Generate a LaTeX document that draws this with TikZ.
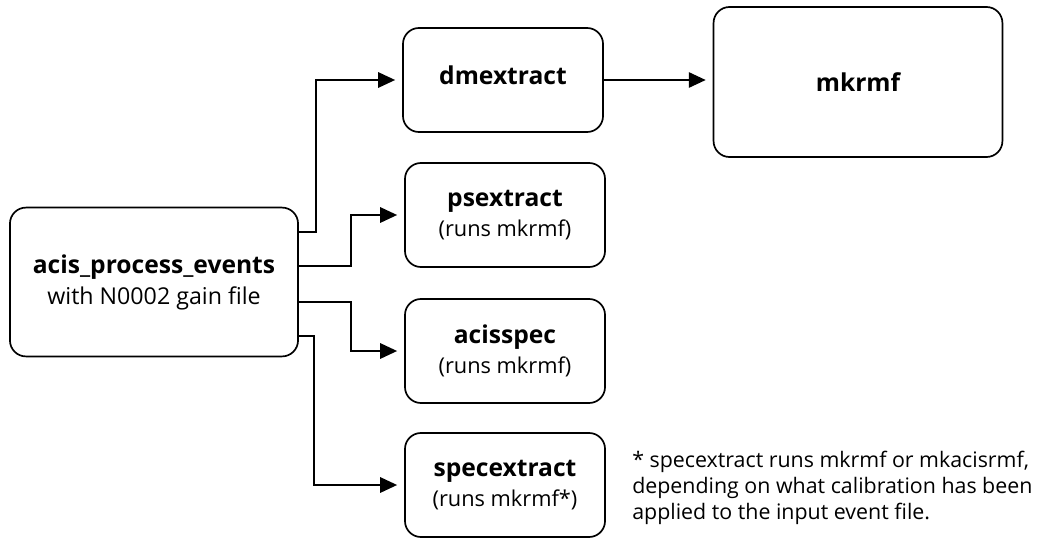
\documentclass[tikz,border=0pt]{standalone}
\usepackage{fontspec}
\setmainfont{Open Sans}
\usetikzlibrary{arrows.meta}

\newcommand{\boxname}[1]{{\fontsize{17.5}{21}\selectfont\bfseries #1}}
\newcommand{\boxnote}[1]{{\fontsize{15.5}{21}\selectfont #1}}

\begin{document}
\begin{tikzpicture}[x=0.025cm,y=-0.025cm,
    box/.style={draw, line width=1.2pt, rounded corners=0.4cm, align=center,
        minimum width=5cm, minimum height=2.6cm, font=\fontsize{15.5}{21}\selectfont},
    arr/.style={-{Triangle[length=12pt,width=11pt]}, line width=1pt, shorten >=5pt}]

    \useasboundingbox (0,0) rectangle (1054,539);

    % Boxes
    \node[box, minimum width=7.2cm, minimum height=3.72cm] (main) at (154,282)
        {\boxname{acis\_process\_events}\\[1pt]
         {\fontsize{16.5}{21}\selectfont with N0002 gain file}};
    \node[box] (dmx) at (503,80) {\raisebox{7pt}{\boxname{dmextract}}};
    \node[box] (psx) at (505,215) {\boxname{psextract}\\ \boxnote{(runs mkrmf)}};
    \node[box] (acs) at (505,351) {\boxname{acisspec}\\ \boxnote{(runs mkrmf)}};
    \node[box] (spx) at (505,485) {\boxname{specextract}\\ \boxnote{(runs mkrmf*)}};
    \node[box, minimum width=7.22cm, minimum height=3.75cm] (mkr) at (858,82)
        {\boxname{mkrmf}};

    % Connectors
    \draw[arr] ([yshift=1.25cm]main.east) -- ++(17,0) |- (dmx.west);
    \draw[arr] ([yshift=0.4cm]main.east) -- ++(52,0) |- (psx.west);
    \draw[arr] ([yshift=-0.5cm]main.east) -- ++(52,0) |- (acs.west);
    \draw[arr] ([yshift=-1.35cm]main.east) -- ++(15,0) |- (spx.west);
    \draw[arr] (dmx.east) -- (mkr.west |- dmx.east);

    % Footnote
    \node[anchor=north west, align=left, inner sep=0pt, font=\fontsize{15.2}{18.5}\selectfont]
        (note) at (632,451) {* specextract runs mkrmf or mkacisrmf,\\
        depending on what calibration has been\\
        applied to the input event file.};

\end{tikzpicture}
\end{document}
